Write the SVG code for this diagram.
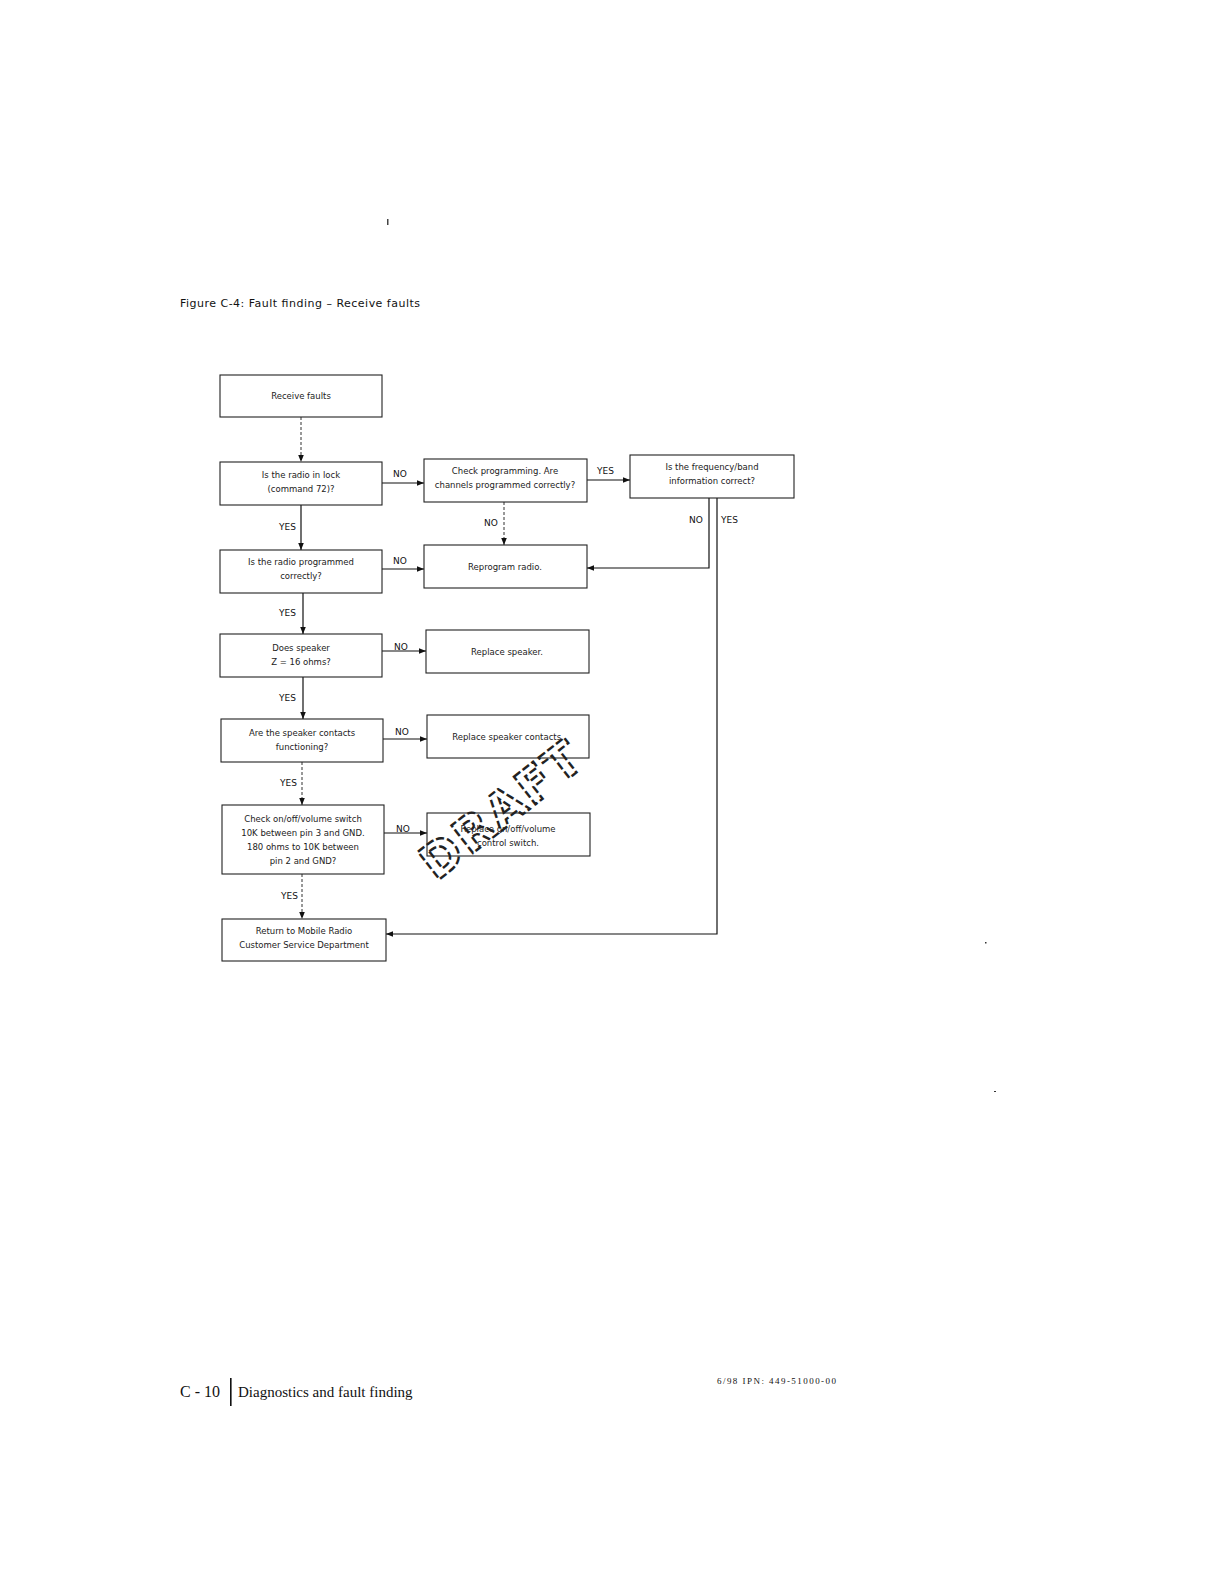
<svg xmlns="http://www.w3.org/2000/svg" width="1224" height="1584" viewBox="0 0 1224 1584">
<style>
.box{fill:#fff;stroke:#222;stroke-width:1.1}
.t{font-family:"DejaVu Sans","Liberation Sans",sans-serif;font-size:8.5px;fill:#222;text-anchor:middle}
.lbl{font-family:"DejaVu Sans","Liberation Sans",sans-serif;font-size:9px;fill:#111}
.c{fill:none;stroke:#111;stroke-width:1.2}
.d{fill:none;stroke:#333;stroke-width:1;stroke-dasharray:3 2}
.serif{font-family:"Liberation Serif",serif;fill:#111}
</style>
<defs>
<marker id="ah" viewBox="0 0 10 10" refX="10" refY="5" markerWidth="7" markerHeight="7" markerUnits="userSpaceOnUse" orient="auto">
<path d="M0,1 L10,5 L0,9 z" fill="#111"/>
</marker>
</defs>
<rect width="1224" height="1584" fill="#fff"/>
<rect x="387" y="219" width="1.5" height="6" fill="#444"/>
<text x="180" y="307" font-family="DejaVu Sans, sans-serif" font-size="11" fill="#111" textLength="240">Figure C-4: Fault finding – Receive faults</text>

<g id="connectors">
<path class="d" d="M301,417 V462" marker-end="url(#ah)"/>
<path class="c" d="M382,483 H424" marker-end="url(#ah)"/>
<path class="c" d="M587,480 H630" marker-end="url(#ah)"/>
<path class="d" d="M504,502 V545" marker-end="url(#ah)"/>
<path class="c" d="M709,498 V568 H587" marker-end="url(#ah)"/>
<path class="c" d="M717,498 V934 H386" marker-end="url(#ah)"/>
<path class="c" d="M301,505 V550" marker-end="url(#ah)"/>
<path class="c" d="M382,569 H424" marker-end="url(#ah)"/>
<path class="c" d="M303,593 V634" marker-end="url(#ah)"/>
<path class="c" d="M382,651 H426" marker-end="url(#ah)"/>
<path class="c" d="M303,677 V719" marker-end="url(#ah)"/>
<path class="c" d="M383,739 H427" marker-end="url(#ah)"/>
<path class="d" d="M302,762 V805" marker-end="url(#ah)"/>
<path class="c" d="M384,833 H427" marker-end="url(#ah)"/>
<path class="d" d="M302,874 V919" marker-end="url(#ah)"/>
<text class="lbl" x="393" y="477">NO</text>
<text class="lbl" x="597" y="474">YES</text>
<text class="lbl" x="484" y="526">NO</text>
<text class="lbl" x="689" y="523">NO</text>
<text class="lbl" x="721" y="523">YES</text>
<text class="lbl" x="279" y="530">YES</text>
<text class="lbl" x="393" y="564">NO</text>
<text class="lbl" x="279" y="616">YES</text>
<text class="lbl" x="394" y="650">NO</text>
<text class="lbl" x="279" y="701">YES</text>
<text class="lbl" x="395" y="735">NO</text>
<text class="lbl" x="280" y="786">YES</text>
<text class="lbl" x="396" y="832">NO</text>
<text class="lbl" x="281" y="899">YES</text>
</g>

<g id="n1"><rect class="box" x="220" y="375" width="162" height="42"/><text class="t" x="301" y="399">Receive faults</text></g>
<g id="n2"><rect class="box" x="220" y="462" width="162" height="43"/><text class="t" x="301" y="478">Is the radio in lock</text><text class="t" x="301" y="492">(command 72)?</text></g>
<g id="n3"><rect class="box" x="424" y="459" width="163" height="43"/><text class="t" x="505" y="474">Check programming. Are</text><text class="t" x="505" y="488">channels programmed correctly?</text></g>
<g id="n4"><rect class="box" x="630" y="455" width="164" height="43"/><text class="t" x="712" y="470">Is the frequency/band</text><text class="t" x="712" y="484">information correct?</text></g>
<g id="n5"><rect class="box" x="220" y="550" width="162" height="43"/><text class="t" x="301" y="565">Is the radio programmed</text><text class="t" x="301" y="579">correctly?</text></g>
<g id="n6"><rect class="box" x="424" y="545" width="163" height="43"/><text class="t" x="505" y="570">Reprogram radio.</text></g>
<g id="n7"><rect class="box" x="220" y="634" width="162" height="43"/><text class="t" x="301" y="651">Does speaker</text><text class="t" x="301" y="665">Z = 16 ohms?</text></g>
<g id="n8"><rect class="box" x="426" y="630" width="163" height="43"/><text class="t" x="507" y="655">Replace speaker.</text></g>
<g id="n9"><rect class="box" x="221" y="719" width="162" height="43"/><text class="t" x="302" y="736">Are the speaker contacts</text><text class="t" x="302" y="750">functioning?</text></g>
<g id="n10"><rect class="box" x="427" y="715" width="162" height="43"/><text class="t" x="508" y="740">Replace speaker contacts.</text></g>
<g id="n11"><rect class="box" x="222" y="805" width="162" height="69"/><text class="t" x="303" y="822">Check on/off/volume switch</text><text class="t" x="303" y="836">10K between pin 3 and GND.</text><text class="t" x="303" y="850">180 ohms to 10K between</text><text class="t" x="303" y="864">pin 2 and GND?</text></g>
<g id="n12"><rect class="box" x="427" y="813" width="163" height="43"/><text class="t" x="508" y="832">Replace on/off/volume</text><text class="t" x="508" y="846">control switch.</text></g>
<g id="n13"><rect class="box" x="222" y="919" width="164" height="42"/><text class="t" x="304" y="934">Return to Mobile Radio</text><text class="t" x="304" y="948">Customer Service Department</text></g>

<text x="0" y="0" transform="translate(436,882) rotate(-38)" font-family="DejaVu Sans, sans-serif" font-size="48" font-weight="bold" fill="none" stroke="#222" stroke-width="2.4" stroke-dasharray="8 3" textLength="190">DRAFT</text>

<text class="serif" x="180" y="1397" font-size="16">C - 10</text>
<rect x="230" y="1378" width="1.6" height="28" fill="#111"/>
<text class="serif" x="238" y="1397" font-size="15">Diagnostics and fault finding</text>
<text class="serif" x="717" y="1384" font-size="9" textLength="119">6/98 IPN: 449-51000-00</text>
<rect x="985" y="942" width="1.5" height="1.5" fill="#333"/>
<rect x="994" y="1091" width="2" height="1" fill="#333"/>
</svg>
